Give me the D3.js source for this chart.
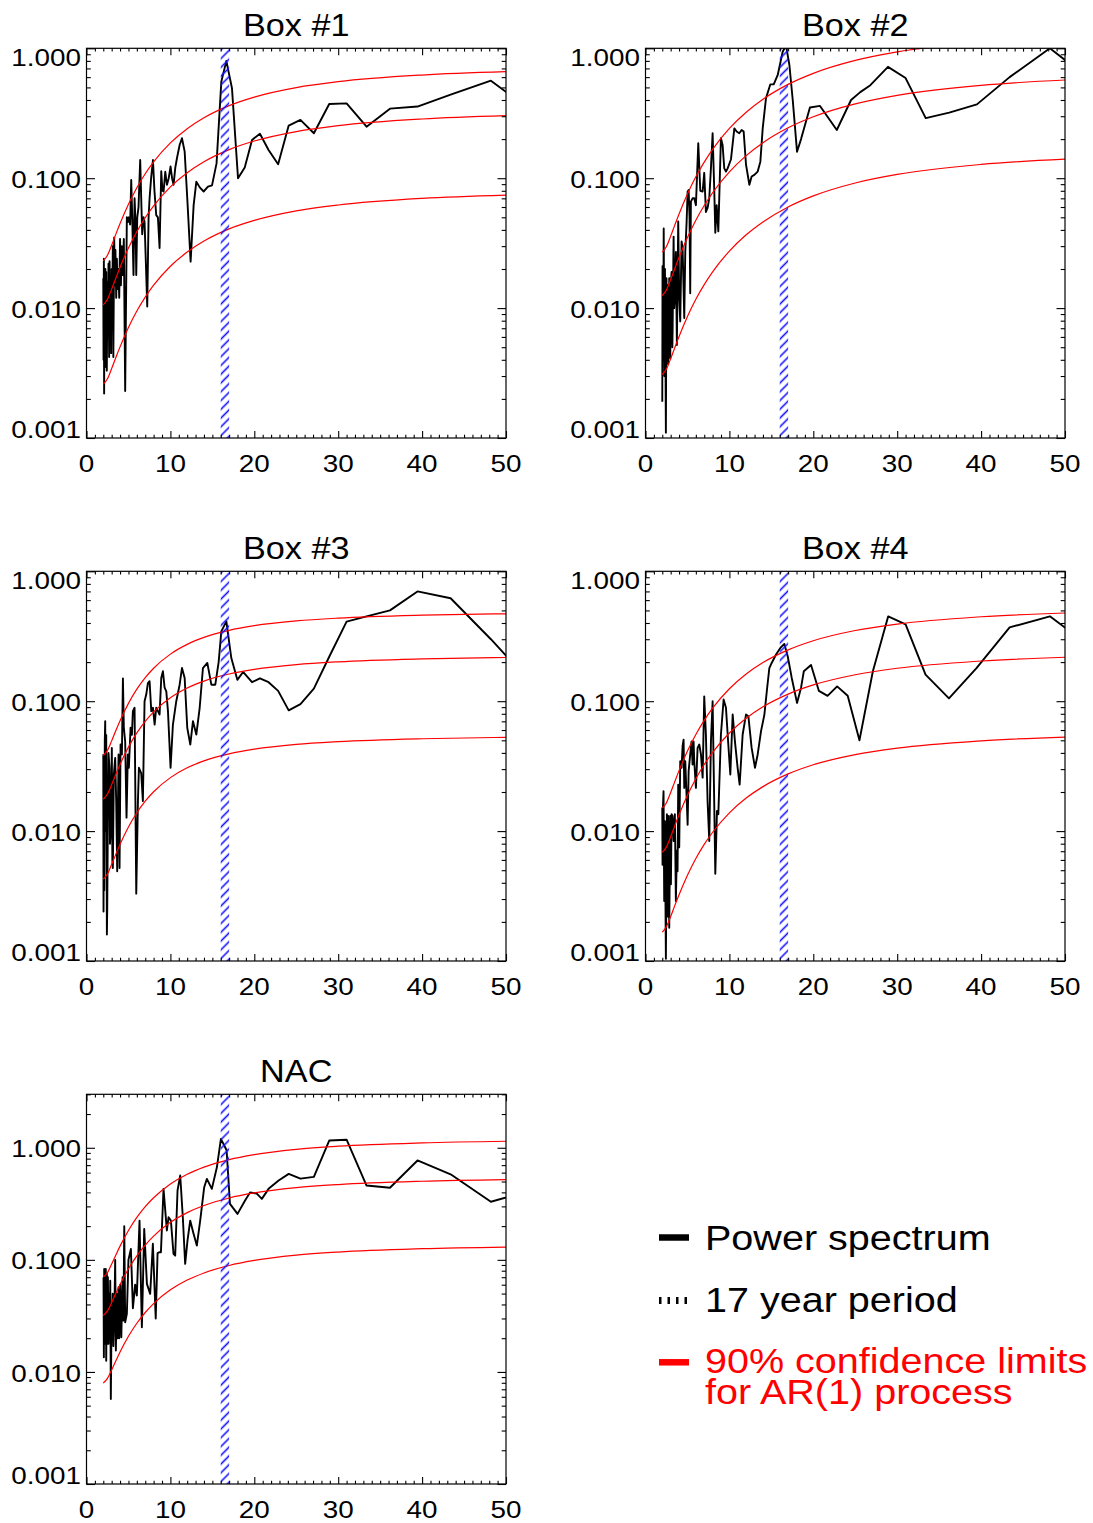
<!DOCTYPE html>
<html>
<head>
<meta charset="utf-8">
<script src="https://cdnjs.cloudflare.com/ajax/libs/d3/7.8.5/d3.min.js"></script>
<style>
  body { margin: 0; background: #fff; }
  text { font-family: "Liberation Sans", Arial, Helvetica, sans-serif; }
</style>
</head>
<body>
<div id="chart"></div>
<script>
// ---- data ----
// period (years) and power of each spectrum
var box1Period = [2.0, 2.03, 2.07, 2.1, 2.15, 2.2, 2.25, 2.3, 2.35, 2.42, 2.5, 2.55, 2.62, 2.7, 2.75, 2.82, 2.9, 2.94, 3.0, 3.07, 3.14, 3.2, 3.3, 3.38, 3.45, 3.54, 3.62, 3.7, 3.8, 3.9, 4.0, 4.1, 4.2, 4.3, 4.45, 4.61, 4.81, 4.93, 5.05, 5.2, 5.33, 5.45, 5.6, 5.73, 5.85, 5.93, 6.05, 6.2, 6.4, 6.55, 6.64, 6.8, 6.92, 7.1, 7.24, 7.4, 7.52, 7.7, 7.92, 8.1, 8.31, 8.51, 8.71, 8.91, 9.05, 9.19, 9.39, 9.59, 9.8, 10.02, 10.2, 10.38, 10.58, 10.78, 11.1, 11.38, 11.7, 12.01, 12.41, 12.77, 13.09, 13.5, 13.96, 14.48, 14.96, 15.5, 16.07, 16.67, 17.34, 18.06, 18.86, 19.73, 20.67, 21.7, 22.84, 24.1, 25.5, 27.1, 28.93, 31.0, 33.38, 36.17, 39.45, 43.4, 48.2, 54.25];
var box1Power = [0.017, 0.004, 0.024, 0.0022, 0.015, 0.0035, 0.02, 0.005, 0.019, 0.0033, 0.016, 0.006, 0.022, 0.0042, 0.023, 0.009, 0.018, 0.0045, 0.02, 0.012, 0.03, 0.0042, 0.035, 0.015, 0.028, 0.012, 0.024, 0.014, 0.02, 0.012, 0.034, 0.015, 0.03, 0.018, 0.034, 0.0023, 0.05, 0.046, 0.05, 0.044, 0.097, 0.05, 0.018, 0.07, 0.044, 0.018, 0.05, 0.06, 0.138, 0.06, 0.037, 0.05, 0.046, 0.02, 0.0103, 0.05, 0.07, 0.1, 0.138, 0.08, 0.052, 0.05, 0.029, 0.113, 0.08, 0.079, 0.112, 0.089, 0.1, 0.123, 0.1, 0.089, 0.12, 0.1425, 0.18, 0.203, 0.16, 0.07, 0.0228, 0.062, 0.094, 0.085, 0.079, 0.086, 0.088, 0.13, 0.554, 0.8, 0.492, 0.1, 0.121, 0.197, 0.22, 0.165, 0.128, 0.254, 0.281, 0.222, 0.373, 0.377, 0.249, 0.343, 0.356, 0.44, 0.563, 0.29];

var box2Period = [2.0, 2.03, 2.1, 2.17, 2.25, 2.32, 2.43, 2.5, 2.55, 2.63, 2.7, 2.83, 2.9, 2.95, 3.03, 3.11, 3.2, 3.23, 3.35, 3.42, 3.5, 3.62, 3.74, 3.9, 4.02, 4.14, 4.3, 4.42, 4.62, 4.74, 4.9, 5.02, 5.14, 5.25, 5.33, 5.41, 5.61, 5.81, 6.01, 6.29, 6.53, 6.81, 7.0, 7.2, 7.4, 7.6, 7.8, 8.0, 8.2, 8.32, 8.48, 8.68, 8.99, 9.19, 9.39, 9.59, 9.79, 10.19, 10.59, 10.86, 11.18, 11.46, 11.7, 11.98, 12.38, 12.65, 12.97, 13.37, 13.69, 13.97, 14.36, 14.88, 15.28, 15.76, 16.35, 16.75, 17.15, 17.55, 18.06, 18.54, 19.6, 20.8, 22.8, 24.5, 25.6, 26.8, 28.9, 31.0, 33.4, 36.2, 39.5, 43.4, 48.2, 54.25];
var box2Power = [0.0019, 0.021, 0.004, 0.041, 0.003, 0.02, 0.0011, 0.017, 0.004, 0.015, 0.0037, 0.017, 0.006, 0.0041, 0.016, 0.019, 0.005, 0.0066, 0.0355, 0.01, 0.0119, 0.027, 0.0052, 0.0464, 0.0119, 0.0079, 0.0326, 0.029, 0.0084, 0.027, 0.046, 0.079, 0.081, 0.05, 0.013, 0.066, 0.07, 0.07, 0.062, 0.186, 0.08, 0.079, 0.11, 0.055, 0.059, 0.07, 0.12, 0.222, 0.079, 0.038, 0.062, 0.039, 0.203, 0.18, 0.119, 0.1125, 0.119, 0.14, 0.242, 0.229, 0.222, 0.235, 0.229, 0.127, 0.089, 0.103, 0.106, 0.1125, 0.134, 0.242, 0.412, 0.528, 0.528, 0.623, 0.94, 1.05, 0.744, 0.4, 0.16, 0.2, 0.35, 0.36, 0.235, 0.4, 0.46, 0.52, 0.72, 0.59, 0.29, 0.32, 0.37, 0.6, 1.0, 0.5];

var box3Period = [2.0, 2.03, 2.07, 2.12, 2.18, 2.23, 2.3, 2.35, 2.43, 2.47, 2.55, 2.62, 2.74, 2.8, 2.86, 2.95, 3.02, 3.08, 3.14, 3.26, 3.42, 3.54, 3.66, 3.82, 3.94, 4.06, 4.22, 4.34, 4.45, 4.61, 4.77, 4.93, 5.05, 5.25, 5.41, 5.53, 5.73, 5.93, 6.13, 6.25, 6.52, 6.72, 6.92, 7.12, 7.32, 7.52, 7.72, 7.92, 8.12, 8.31, 8.51, 8.71, 8.91, 9.11, 9.31, 9.51, 9.71, 10.02, 10.3, 10.7, 11.1, 11.38, 11.7, 12.01, 12.37, 12.69, 13.09, 13.49, 13.88, 14.4, 14.88, 15.35, 15.75, 16.07, 16.67, 17.26, 17.98, 18.66, 19.73, 20.67, 21.7, 22.84, 24.1, 25.5, 27.1, 28.93, 31.0, 33.38, 36.17, 39.45, 43.4, 48.2, 54.25];
var box3Power = [0.039, 0.0024, 0.017, 0.0035, 0.05, 0.07, 0.01, 0.055, 0.0016, 0.0025, 0.0127, 0.04, 0.0307, 0.008, 0.0093, 0.02, 0.0437, 0.006, 0.0052, 0.0273, 0.0366, 0.017, 0.0049, 0.0389, 0.0052, 0.0464, 0.0389, 0.15, 0.0624, 0.049, 0.0127, 0.0389, 0.0307, 0.0624, 0.055, 0.0838, 0.089, 0.0033, 0.017, 0.0307, 0.028, 0.017, 0.1, 0.1125, 0.138, 0.1425, 0.0838, 0.089, 0.0661, 0.089, 0.0838, 0.0789, 0.151, 0.17, 0.127, 0.119, 0.0838, 0.0307, 0.0661, 0.1, 0.134, 0.18, 0.151, 0.0624, 0.0464, 0.0702, 0.0554, 0.089, 0.18, 0.197, 0.134, 0.134, 0.2, 0.345, 0.412, 0.215, 0.146, 0.168, 0.14, 0.15, 0.14, 0.12, 0.085, 0.095, 0.125, 0.22, 0.41, 0.45, 0.5, 0.7, 0.62, 0.3, 0.113];

var box4Period = [2.0, 2.03, 2.08, 2.15, 2.23, 2.31, 2.43, 2.55, 2.63, 2.71, 2.83, 2.95, 3.03, 3.11, 3.23, 3.35, 3.5, 3.62, 3.74, 3.82, 3.9, 4.02, 4.14, 4.3, 4.42, 4.54, 4.62, 4.74, 4.86, 5.02, 5.14, 5.33, 5.49, 5.61, 5.73, 5.81, 6.01, 6.21, 6.41, 6.61, 6.81, 7.0, 7.2, 7.4, 7.6, 7.8, 8.0, 8.2, 8.32, 8.52, 8.68, 8.99, 9.31, 9.59, 9.87, 10.11, 10.39, 10.66, 10.98, 11.22, 11.58, 11.98, 12.26, 12.65, 13.05, 13.37, 13.77, 14.17, 14.48, 14.76, 15.04, 15.56, 16.07, 16.55, 16.95, 17.43, 18.06, 18.54, 18.87, 19.73, 20.67, 21.7, 22.84, 24.1, 25.5, 27.1, 28.93, 31.0, 33.38, 36.17, 39.45, 43.4, 48.2, 54.25];
var box4Power = [0.0152, 0.0055, 0.0152, 0.0203, 0.0029, 0.0119, 0.00104, 0.0135, 0.0022, 0.0131, 0.0018, 0.0131, 0.0039, 0.0135, 0.0131, 0.0084, 0.0135, 0.0029, 0.0071, 0.0049, 0.0228, 0.0075, 0.0345, 0.0307, 0.045, 0.0506, 0.0215, 0.0345, 0.0215, 0.0112, 0.0289, 0.039, 0.049, 0.0326, 0.049, 0.0345, 0.0215, 0.0437, 0.0464, 0.0389, 0.0258, 0.109, 0.0554, 0.017, 0.0084, 0.049, 0.1, 0.0152, 0.0047, 0.0143, 0.0135, 0.0554, 0.103, 0.089, 0.0464, 0.0273, 0.0789, 0.049, 0.0307, 0.0228, 0.0554, 0.0789, 0.0767, 0.0437, 0.0307, 0.0389, 0.0588, 0.0789, 0.123, 0.18, 0.197, 0.229, 0.257, 0.276, 0.222, 0.151, 0.097, 0.127, 0.17, 0.19, 0.12, 0.11, 0.13, 0.11, 0.05, 0.17, 0.45, 0.39, 0.16, 0.105, 0.18, 0.37, 0.45, 0.23];

var nacPeriod = [2.03, 2.07, 2.11, 2.17, 2.23, 2.3, 2.35, 2.43, 2.5, 2.55, 2.63, 2.7, 2.78, 2.83, 2.9, 3.0, 3.03, 3.12, 3.2, 3.31, 3.42, 3.5, 3.62, 3.7, 3.82, 3.9, 4.02, 4.15, 4.3, 4.4, 4.5, 4.61, 4.81, 5.0, 5.29, 5.53, 5.8, 6.0, 6.32, 6.6, 6.88, 7.2, 7.59, 7.91, 8.25, 8.47, 8.71, 8.87, 9.18, 9.58, 9.78, 10.06, 10.37, 10.57, 10.85, 11.17, 11.48, 11.76, 12.04, 12.36, 12.76, 13.15, 13.55, 14.03, 14.35, 14.94, 15.54, 16.02, 16.7, 17.1, 18.0, 18.9, 19.5, 20.3, 20.9, 21.7, 22.9, 24.1, 25.5, 27.1, 28.93, 31.0, 33.38, 36.17, 39.45, 43.4, 48.2, 54.25];
var nacPower = [0.07, 0.0135, 0.083, 0.02, 0.0178, 0.083, 0.0126, 0.075, 0.0178, 0.07, 0.0178, 0.05, 0.02, 0.065, 0.00574, 0.04, 0.0218, 0.05, 0.017, 0.03, 0.1, 0.0155, 0.05, 0.02, 0.057, 0.02, 0.06, 0.0204, 0.07, 0.0287, 0.2, 0.0277, 0.033, 0.1, 0.125, 0.037, 0.06, 0.048, 0.224, 0.025, 0.189, 0.061, 0.0497, 0.139, 0.03, 0.1146, 0.117, 0.117, 0.43, 0.183, 0.24, 0.224, 0.113, 0.109, 0.416, 0.566, 0.24, 0.092, 0.149, 0.224, 0.171, 0.134, 0.224, 0.445, 0.528, 0.43, 0.67, 1.2, 0.95, 0.316, 0.257, 0.338, 0.4, 0.39, 0.35, 0.43, 0.51, 0.585, 0.53, 0.55, 1.16, 1.18, 0.46, 0.44, 0.77, 0.58, 0.33, 0.44];

// AR(1) red noise curves (lower limit, mean, upper limit) sampled at these periods
var curvePeriod = [2, 2.5, 3, 3.5, 4, 5, 6, 7, 8, 10, 12, 14, 17, 20, 25, 30, 40, 50];
var box1Lower = [0.0026, 0.00286, 0.00343, 0.00417, 0.00503, 0.0071, 0.0095, 0.01216, 0.015, 0.021, 0.027, 0.0328, 0.0407, 0.0473, 0.056, 0.0622, 0.07, 0.0742];
var box1Mean = [0.0106, 0.0117, 0.014, 0.017, 0.0206, 0.029, 0.0388, 0.0496, 0.0612, 0.0857, 0.1103, 0.1339, 0.166, 0.1932, 0.2285, 0.2539, 0.2856, 0.303];
var box1Upper = [0.0231, 0.0255, 0.0305, 0.0371, 0.0448, 0.0631, 0.0845, 0.1082, 0.1335, 0.1868, 0.2405, 0.2919, 0.3619, 0.4212, 0.4981, 0.5535, 0.6226, 0.6605];
var box2Lower = [0.00308, 0.0034, 0.00408, 0.00498, 0.00604, 0.00861, 0.01168, 0.01516, 0.01901, 0.0275, 0.0367, 0.0461, 0.0601, 0.0731, 0.0919, 0.1069, 0.1276, 0.1402];
var box2Mean = [0.0125, 0.0138, 0.0166, 0.0202, 0.0246, 0.035, 0.0475, 0.0616, 0.0773, 0.1118, 0.1492, 0.1876, 0.2442, 0.2971, 0.3734, 0.4344, 0.5187, 0.57];
var box2Upper = [0.027, 0.0298, 0.0358, 0.0437, 0.0531, 0.0756, 0.1025, 0.1331, 0.1669, 0.2415, 0.3223, 0.4052, 0.5275, 0.6417, 0.8065, 0.9383, 1.1204, 1.2312];
var box3Lower = [0.00427, 0.00468, 0.00555, 0.00665, 0.00792, 0.01077, 0.01385, 0.017, 0.02009, 0.0258, 0.0307, 0.0347, 0.0393, 0.0427, 0.0465, 0.0488, 0.0514, 0.0527];
var box3Mean = [0.0176, 0.0193, 0.0228, 0.0274, 0.0326, 0.0443, 0.057, 0.07, 0.0827, 0.1062, 0.1262, 0.1428, 0.1619, 0.1758, 0.1913, 0.201, 0.2117, 0.217];
var box3Upper = [0.0381, 0.0418, 0.0495, 0.0594, 0.0707, 0.0962, 0.1237, 0.1518, 0.1794, 0.2304, 0.2739, 0.3099, 0.3513, 0.3815, 0.4151, 0.4362, 0.4594, 0.4709];
var box4Lower = [0.00167, 0.00184, 0.0022, 0.00268, 0.00324, 0.00458, 0.00616, 0.00791, 0.0098, 0.01383, 0.01796, 0.022, 0.02756, 0.03242, 0.03883, 0.04357, 0.04957, 0.05297];
var box4Mean = [0.00686, 0.00756, 0.00906, 0.01102, 0.01334, 0.01886, 0.02533, 0.03254, 0.04033, 0.05691, 0.07392, 0.0905, 0.1134, 0.1334, 0.1598, 0.1793, 0.204, 0.218];
var box4Upper = [0.01501, 0.01655, 0.01984, 0.02413, 0.02921, 0.0413, 0.05547, 0.07126, 0.08832, 0.1246, 0.1619, 0.1982, 0.2483, 0.2921, 0.35, 0.3927, 0.4468, 0.4774];
var nacLower = [0.00797, 0.00876, 0.01042, 0.01257, 0.01507, 0.02079, 0.02718, 0.0339, 0.04073, 0.054, 0.066, 0.0764, 0.0891, 0.0988, 0.1101, 0.1174, 0.1257, 0.13];
var nacMean = [0.0319, 0.035, 0.0417, 0.0503, 0.0603, 0.0832, 0.1087, 0.1356, 0.1629, 0.216, 0.264, 0.3057, 0.3565, 0.3952, 0.4403, 0.4696, 0.5029, 0.52];
var nacUpper = [0.0701, 0.077, 0.0917, 0.1106, 0.1326, 0.183, 0.2391, 0.2983, 0.3584, 0.4752, 0.5808, 0.6725, 0.7843, 0.8694, 0.9687, 1.0331, 1.1064, 1.144];

// axes
var xTickValues = [0, 10, 20, 30, 40, 50];
var yTickValues = [0.001, 0.01, 0.1, 1];
var yTickLabels = ["0.001", "0.010", "0.100", "1.000"];
var bandStart = 16, bandEnd = 17;   // the 17 year period band

var titles = ["Box #1", "Box #2", "Box #3", "Box #4", "NAC"];
var legendLabels = ["Power spectrum", "17 year period", "90% confidence limits", "for AR(1) process"];

window.onload = function () {
    var plotW = 419.5, plotH = 389.7;

    var svg = d3.select("#chart")
        .append("svg")
        .attr("width", 1093)
        .attr("height", 1523);

    // diagonal blue hatching for the band
    svg.append("defs").append("pattern")
        .attr("id", "hatch")
        .attr("patternUnits", "userSpaceOnUse")
        .attr("width", 12).attr("height", 6.2)
        .attr("patternTransform", "rotate(-45)")
        .append("line")
        .attr("x1", 0).attr("x2", 12).attr("y1", 3.1).attr("y2", 3.1)
        .attr("stroke", "#1414ff").attr("stroke-width", 1.6);

    // text is a little wider than plain Helvetica in the original
    function addText(sel, x, y, str, size, sx, anchor, color) {
        return sel.append("text")
            .attr("transform", "translate(" + x + "," + y + ") scale(" + sx + ",1)")
            .attr("text-anchor", anchor)
            .style("font-size", size + "px")
            .style("fill", color || "#000")
            .text(str);
    }

    var panels = [
        {left: 86.5, top: 48.3, yMax: 1, period: box1Period, power: box1Power, curves: [box1Lower, box1Mean, box1Upper]},
        {left: 645.5, top: 48.3, yMax: 1, period: box2Period, power: box2Power, curves: [box2Lower, box2Mean, box2Upper]},
        {left: 86.5, top: 571.3, yMax: 1, period: box3Period, power: box3Power, curves: [box3Lower, box3Mean, box3Upper]},
        {left: 645.5, top: 571.3, yMax: 1, period: box4Period, power: box4Power, curves: [box4Lower, box4Mean, box4Upper]},
        {left: 86.5, top: 1094.3, yMax: 3, period: nacPeriod, power: nacPower, curves: [nacLower, nacMean, nacUpper]}
    ];

    panels.forEach(function (p, i) {
        var g = svg.append("g")
            .attr("transform", "translate(" + p.left + "," + p.top + ")");

        var x = d3.scaleLinear().domain([0, 50]).range([0, plotW]);
        var y = d3.scaleLog().domain([0.001, p.yMax]).range([plotH, 0]);

        g.append("clipPath").attr("id", "clip" + i)
            .append("rect").attr("width", plotW).attr("height", plotH);
        var inner = g.append("g").attr("clip-path", "url(#clip" + i + ")");

        // power spectrum
        var line = d3.line().x(function (d) { return x(d[0]); }).y(function (d) { return y(d[1]); });
        inner.append("path")
            .datum(d3.zip(p.period, p.power))
            .attr("d", line)
            .attr("fill", "none")
            .attr("stroke", "#000")
            .attr("stroke-width", 1.9)
            .attr("stroke-linejoin", "round");

        // confidence curves
        var smooth = d3.line().x(function (d) { return x(d[0]); }).y(function (d) { return y(d[1]); })
            .curve(d3.curveMonotoneX);
        p.curves.forEach(function (c) {
            inner.append("path")
                .datum(d3.zip(curvePeriod, c))
                .attr("d", smooth)
                .attr("fill", "none")
                .attr("stroke", "#ff0000")
                .attr("stroke-width", 1.2);
        });

        // hatched band
        inner.append("rect")
            .attr("x", x(bandStart))
            .attr("width", x(bandEnd) - x(bandStart))
            .attr("y", 0)
            .attr("height", plotH)
            .attr("fill", "url(#hatch)");

        // tick marks on all four sides (no labels here)
        var xMinor = d3.range(0, 51, 1).filter(function (v) { return v % 10 !== 0; });
        var yMinor = [];
        yTickValues.forEach(function (d) {
            for (var m = 2; m <= 9; m++) { if (m * d <= p.yMax * 1.0001) yMinor.push(m * d); }
        });
        function ticks(axis, tx, ty) {
            g.append("g")
                .attr("transform", "translate(" + tx + "," + ty + ")")
                .call(axis)
                .call(function (s) { s.select(".domain").remove(); s.selectAll("text").remove(); })
                .selectAll("line").attr("stroke", "#000").attr("stroke-width", 1.1);
        }
        ticks(d3.axisBottom(x).tickValues(xTickValues).tickSize(-7).tickFormat(""), 0, plotH);
        ticks(d3.axisBottom(x).tickValues(xMinor).tickSize(-3.3).tickFormat(""), 0, plotH);
        ticks(d3.axisTop(x).tickValues(xTickValues).tickSize(-7).tickFormat(""), 0, 0);
        ticks(d3.axisTop(x).tickValues(xMinor).tickSize(-3.3).tickFormat(""), 0, 0);
        ticks(d3.axisLeft(y).tickValues(yTickValues).tickSize(-8.5).tickFormat(""), 0, 0);
        ticks(d3.axisLeft(y).tickValues(yMinor).tickSize(-4.3).tickFormat(""), 0, 0);
        ticks(d3.axisRight(y).tickValues(yTickValues).tickSize(-8.5).tickFormat(""), plotW, 0);
        ticks(d3.axisRight(y).tickValues(yMinor).tickSize(-4.3).tickFormat(""), plotW, 0);

        // frame
        g.append("rect")
            .attr("width", plotW).attr("height", plotH)
            .attr("fill", "none").attr("stroke", "#000").attr("stroke-width", 1.2);

        // y labels: centred on the tick but kept inside the frame
        var capH = 17.2;
        yTickValues.forEach(function (v, k) {
            var c = Math.min(Math.max(y(v) + 1, capH / 2), plotH - capH / 2);
            addText(g, -5.5, c + capH / 2, yTickLabels[k], 24, 1.16, "end");
        });
        // x labels
        xTickValues.forEach(function (v) {
            addText(g, x(v), plotH + 34, String(v), 24, 1.16, "middle");
        });
        // title
        addText(g, plotW / 2, -12.6, titles[i], 32, 1.07, "middle");
    });

    // legend
    var leg = svg.append("g");
    leg.append("line").attr("x1", 659).attr("x2", 689).attr("y1", 1237.5).attr("y2", 1237.5)
        .attr("stroke", "#000").attr("stroke-width", 6.5);
    leg.append("line").attr("x1", 659).attr("x2", 689).attr("y1", 1300.5).attr("y2", 1300.5)
        .attr("stroke", "#000").attr("stroke-width", 7).attr("stroke-dasharray", "2.5,6");
    leg.append("line").attr("x1", 659).attr("x2", 689).attr("y1", 1362.3).attr("y2", 1362.3)
        .attr("stroke", "#ff0000").attr("stroke-width", 6.5);
    addText(leg, 705, 1250, legendLabels[0], 35, 1.13, "start");
    addText(leg, 705, 1311.7, legendLabels[1], 35, 1.13, "start");
    addText(leg, 705, 1373.3, legendLabels[2], 35, 1.13, "start", "#ff0000");
    addText(leg, 705, 1404, legendLabels[3], 35, 1.13, "start", "#ff0000");
};
</script>
</body>
</html>
